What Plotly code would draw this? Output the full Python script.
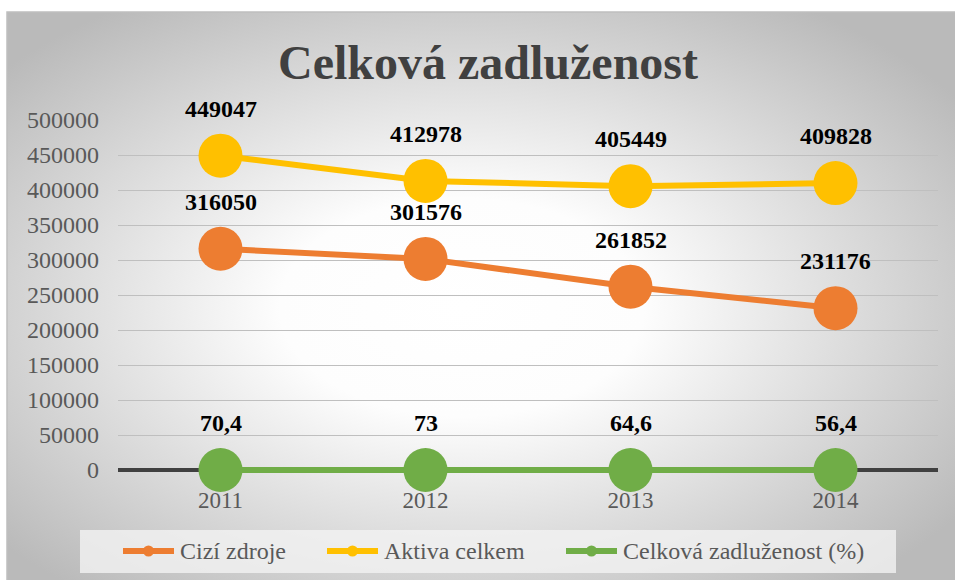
import base64

import plotly.graph_objects as go

YEARS = ["2011", "2012", "2013", "2014"]
CIZI_ZDROJE = [316050, 301576, 261852, 231176]
AKTIVA_CELKEM = [449047, 412978, 405449, 409828]
ZADLUZENOST_PCT = [70.4, 73, 64.6, 56.4]
Y_TICKS = [0, 50000, 100000, 150000, 200000, 250000, 300000, 350000, 400000, 450000, 500000]

W, H = 955, 580
Y_MAX = 500000
PAD_PX = 4  # a little room under zero so the thick zero line / green line are not clipped
M_L, M_R, M_T, M_B = 118, 17, 120, 110 - PAD_PX
PLOT_W = W - M_L - M_R
PLOT_H = H - M_T - M_B
Y_MIN = -Y_MAX * PAD_PX / (PLOT_H - PAD_PX)

SERIF = "Liberation Serif"

SERIES = [
    ("Cizí zdroje", CIZI_ZDROJE, "#ED7D31"),
    ("Aktiva celkem", AKTIVA_CELKEM, "#FFC000"),
    ("Celková zadluženost (%)", ZADLUZENOST_PCT, "#70AD47"),
]

# legend entry start (px) – legend is drawn by hand to mimic Excel's long line keys
LEGEND_X = [120, 324, 563]
LEGEND_Y = 551


def _fmt(value):
    return f"{value:g}".replace(".", ",")


def _px_to_paper_x(px):
    return (px - M_L) / PLOT_W


def _px_to_paper_y(py):
    return (H - M_B - py) / PLOT_H


# radial gradient backdrop (Excel chart area style)
svg = (
    '<svg xmlns="http://www.w3.org/2000/svg" width="948" height="568" '
    'preserveAspectRatio="none">'
    '<defs><radialGradient id="g" cx="48%" cy="52%" r="64%">'
    '<stop offset="0" stop-color="#ffffff"/>'
    '<stop offset="0.3" stop-color="#fdfdfd"/>'
    '<stop offset="1" stop-color="#bababa"/>'
    "</radialGradient></defs>"
    '<rect width="948" height="568" fill="url(#g)"/></svg>'
)
bg_src = "data:image/svg+xml;base64," + base64.b64encode(svg.encode()).decode()

fig = go.Figure()

for name, values, color in SERIES:
    is_pct = name.startswith("Celková")
    fig.add_trace(
        go.Scatter(
            x=YEARS,
            y=[0] * len(values) if is_pct else values,
            mode="lines+markers",
            name=name,
            line={"color": color, "width": 6},
            marker={"color": color, "size": 44},
            cliponaxis=False,
            hoverinfo="skip",
        )
    )
    for i, value in enumerate(values):
        fig.add_annotation(
            x=i,
            y=0 if is_pct else value,
            text=f"<b>{_fmt(value)}</b>",
            showarrow=False,
            yshift=47,
            font={"family": SERIF, "size": 24, "color": "#000000"},
        )

fig.add_layout_image(
    source=bg_src,
    xref="paper",
    yref="paper",
    x=_px_to_paper_x(7),
    y=_px_to_paper_y(12),
    sizex=948 / PLOT_W,
    sizey=568 / PLOT_H,
    sizing="stretch",
    xanchor="left",
    yanchor="top",
    layer="below",
)

fig.add_shape(
    type="rect",
    xref="paper",
    yref="paper",
    x0=_px_to_paper_x(7),
    x1=_px_to_paper_x(956),
    y0=_px_to_paper_y(581),
    y1=_px_to_paper_y(12),
    line={"color": "#bfbfbf", "width": 1.5},
    layer="below",
)

# legend box
fig.add_shape(
    type="rect",
    xref="paper",
    yref="paper",
    x0=_px_to_paper_x(80),
    x1=_px_to_paper_x(896),
    y0=_px_to_paper_y(573),
    y1=_px_to_paper_y(530),
    line={"width": 0},
    fillcolor="rgba(242,242,242,0.8)",
    layer="below",
)

for (name, _, color), lx in zip(SERIES, LEGEND_X):
    fig.add_shape(
        type="line",
        xref="paper",
        yref="paper",
        x0=_px_to_paper_x(lx + 3),
        x1=_px_to_paper_x(lx + 54),
        y0=_px_to_paper_y(LEGEND_Y),
        y1=_px_to_paper_y(LEGEND_Y),
        line={"color": color, "width": 6},
    )
    fig.add_shape(
        type="circle",
        xref="paper",
        yref="paper",
        x0=_px_to_paper_x(lx + 23),
        x1=_px_to_paper_x(lx + 34),
        y0=_px_to_paper_y(LEGEND_Y + 5.5),
        y1=_px_to_paper_y(LEGEND_Y - 5.5),
        line={"width": 0},
        fillcolor=color,
    )
    fig.add_annotation(
        xref="paper",
        yref="paper",
        x=_px_to_paper_x(lx + 58),
        y=_px_to_paper_y(LEGEND_Y),
        xanchor="left",
        yanchor="middle",
        text=name,
        showarrow=False,
        font={"family": SERIF, "size": 24, "color": "#595959"},
    )

fig.update_layout(
    width=W,
    height=H,
    margin={"l": M_L, "r": M_R, "t": M_T, "b": M_B},
    paper_bgcolor="#ffffff",
    plot_bgcolor="rgba(0,0,0,0)",
    title={
        "text": "<b>Celková zadluženost</b>",
        "x": 488 / W,
        "xanchor": "center",
        "y": 1 - 62 / H,
        "yanchor": "middle",
        "font": {"family": SERIF, "size": 48, "color": "#404040"},
    },
    showlegend=False,
)

fig.update_xaxes(
    type="category",
    range=[-0.5, 3.5],
    showgrid=False,
    showline=False,
    zeroline=False,
    ticks="",
    ticklabelstandoff=14 - PAD_PX,
    tickfont={"family": SERIF, "size": 23, "color": "#595959"},
)
fig.update_yaxes(
    range=[Y_MIN, Y_MAX],
    tickvals=Y_TICKS,
    ticktext=[str(v) for v in Y_TICKS],
    showgrid=True,
    gridcolor="#bfbfbf",
    gridwidth=1,
    zeroline=True,
    zerolinecolor="#404040",
    zerolinewidth=4,
    showline=False,
    ticks="",
    ticklabelstandoff=18,
    tickfont={"family": SERIF, "size": 24, "color": "#595959"},
)

fig.write_html(
    "out.html",
    config={"displayModeBar": False},
    post_script="document.body.style.margin='0';",
)
